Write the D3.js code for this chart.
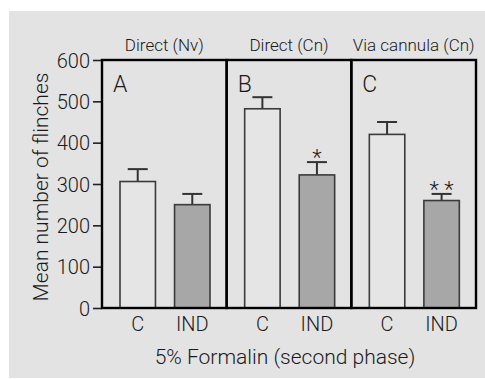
<!DOCTYPE html>
<html><head><meta charset="utf-8">
<script src="https://cdn.jsdelivr.net/npm/d3@7"></script>
<style>body{margin:0;background:#fff}text{font-family:Roboto,"Liberation Sans",Arial,sans-serif;font-weight:300;fill:#1a1a1a}</style>
</head><body><svg id="c" width="485" height="379"></svg>
<script>
const panels = ["A", "B", "C"];
const panelTitles = ["Direct (Nv)", "Direct (Cn)", "Via cannula (Cn)"];
const groups = ["C", "IND"];
const means = [[306, 250], [482, 322], [420, 260]];
const errors = [[30, 26], [28, 31], [30, 16]];
const stars = [["", ""], ["", "*"], ["", "* *"]];
const yTicks = [0, 100, 200, 300, 400, 500, 600];

const svg = d3.select("#c");
svg.append("rect").attr("x", 9).attr("y", 11).attr("width", 476).attr("height", 367).attr("fill", "#e3e3e3");

const y = d3.scaleLinear().domain([0, 600]).range([308, 60]);
const xp = d3.scaleBand().domain(panels).range([102, 476]);
const xb = d3.scaleBand().domain(groups).range([18, 108]).paddingInner(0.35);

// axis
const ax = svg.append("g").attr("transform", "translate(102,0)")
  .call(d3.axisLeft(y).tickValues(yTicks).tickSize(9).tickPadding(3));
ax.select(".domain").remove();
ax.selectAll(".tick line").attr("stroke", "#222").attr("stroke-width", 1.6);
ax.selectAll(".tick text").attr("font-size", 20).attr("fill", "#1a1a1a").attr("dy", "0.36em");

panels.forEach((p, i) => {
  const g = svg.append("g").attr("transform", `translate(${xp(p)},0)`);
  groups.forEach((gr, j) => {
    const x0 = xb(gr), w = xb.bandwidth(), cx = x0 + w / 2;
    const top = y(means[i][j]), capY = y(means[i][j] + errors[i][j]);
    g.append("line").attr("x1", cx).attr("x2", cx).attr("y1", top).attr("y2", capY)
      .attr("stroke", "#333").attr("stroke-width", 2);
    g.append("line").attr("x1", cx - 10).attr("x2", cx + 10).attr("y1", capY).attr("y2", capY)
      .attr("stroke", "#333").attr("stroke-width", 2);
    g.append("rect").attr("x", x0).attr("y", top).attr("width", w).attr("height", y(0) - top)
      .attr("fill", j === 0 ? "#e5e5e5" : "#a7a7a7").attr("stroke", "#3a3a3a").attr("stroke-width", 1.6);
    if (stars[i][j]) {
      g.append("text").attr("x", cx).attr("y", capY + 3).attr("text-anchor", "middle")
        .attr("font-size", 22).text(stars[i][j]);
    }
    g.append("text").attr("x", cx).attr("y", 331).attr("text-anchor", "middle")
      .attr("font-size", 20).text(gr);
  });
  g.append("rect").attr("x", 0).attr("y", y(600)).attr("width", xp.bandwidth()).attr("height", y(0) - y(600))
    .attr("fill", "none").attr("stroke", "#000").attr("stroke-width", 2.4);
  g.append("text").attr("x", 11).attr("y", 92).attr("font-size", 23).text(p);
  g.append("text").attr("x", xp.bandwidth() / 2).attr("y", 51).attr("text-anchor", "middle")
    .attr("font-size", 17).text(panelTitles[i]);
});

svg.append("text").attr("x", 285).attr("y", 364).attr("text-anchor", "middle")
  .attr("font-size", 21).text("5% Formalin (second phase)");
svg.append("text").attr("transform", "translate(48,187) rotate(-90)").attr("text-anchor", "middle")
  .attr("font-size", 21).text("Mean number of flinches");
</script></body></html>
